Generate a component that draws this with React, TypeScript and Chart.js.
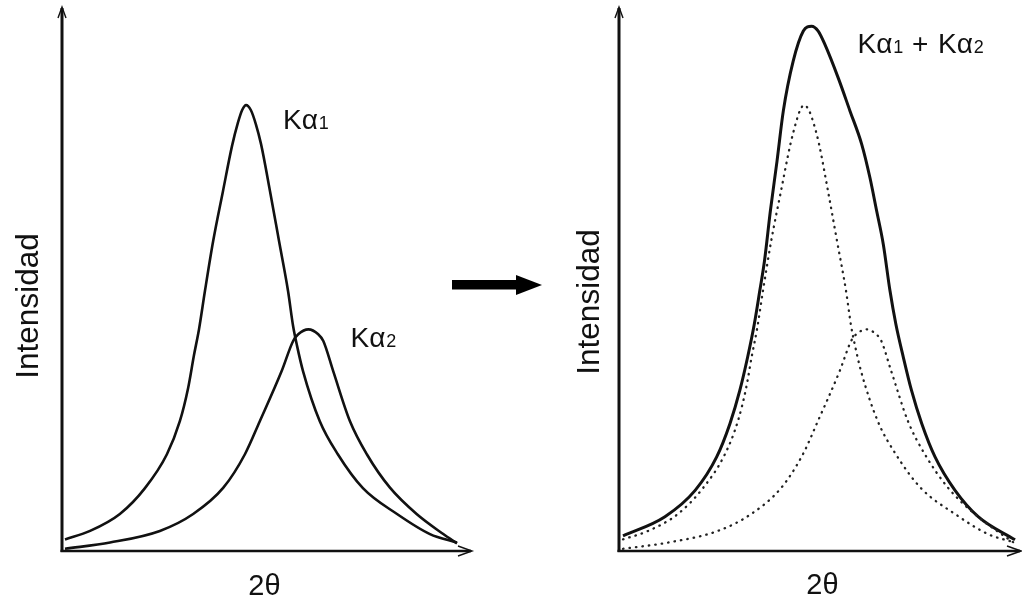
import React, { useEffect, useRef } from "react";
import { Chart, registerables } from "chart.js";

Chart.register(...registerables);

// ---- data (2θ in arbitrary units 0..100, intensity with Kα1 peak = 100) ----
const KA1_X = [0, 6.4, 14.0, 20.4, 26.0, 29.3, 31.4, 32.9, 34.2, 35.7, 37.8, 40.3, 42.6, 44.1, 45.2, 46.2, 47.4, 48.7, 50.0, 52.3, 54.6, 56.9, 58.2, 59.2, 60.7, 65.0, 69.6, 76.0, 84.7, 93.1, 100];
const KA1_Y = [2.6, 4.5, 8.3, 14.1, 21.7, 29.1, 36.5, 43.9, 49.8, 58.3, 69.5, 80.7, 90.8, 96.0, 98.9, 100, 98.9, 95.7, 91.3, 80.7, 69.5, 58.3, 50.4, 46.0, 40.4, 29.1, 21.7, 14.1, 8.3, 3.8, 1.9];

const KA2_X = [0, 11.5, 24.2, 32.7, 40.4, 45.9, 49.7, 55.3, 58.2, 59.5, 62.1, 64.6, 65.9, 68.4, 72.7, 77.0, 82.9, 89.7, 96.5, 100];
const KA2_Y = [0.5, 1.9, 4.5, 8.3, 14.2, 21.7, 29.1, 40.4, 47.1, 48.6, 49.7, 48.6, 47.1, 40.4, 29.1, 21.7, 14.2, 8.3, 3.8, 1.7];

const SUM_X = [0, 10.7, 18.4, 23.9, 27.3, 29.8, 31.8, 33.5, 34.9, 36.1, 37.6, 39.3, 40.9, 43.4, 46.0, 48.1, 49.8, 51.5, 54.9, 57.9, 60.9, 63.0, 64.7, 66.4, 68.1, 69.6, 71.5, 73.6, 76.2, 79.6, 84.7, 90.6, 100];
const SUM_Y = [3.4, 7.7, 13.6, 21.1, 28.6, 36.0, 43.5, 50.9, 58.4, 65.1, 76.3, 87.5, 98.7, 109.8, 116.6, 117.7, 116.6, 113.6, 106.1, 98.7, 91.2, 83.7, 76.3, 68.8, 58.4, 50.9, 43.5, 36.0, 28.6, 21.1, 13.6, 7.7, 2.5];

const X_TITLE = "2θ";
const Y_TITLE = "Intensidad";
const LABEL_KA = "Kα";

const FF = '"Liberation Sans", Arial, Helvetica, sans-serif';
const INK = "#111";

const pts = (xs: number[], ys: number[]) => xs.map((x, i) => ({ x, y: ys[i] }));

function drawAxes(ctx: CanvasRenderingContext2D, a: any) {
  ctx.save();
  ctx.strokeStyle = INK;
  ctx.lineCap = "butt";
  ctx.lineWidth = 3;
  ctx.beginPath();
  ctx.moveTo(a.left, a.bottom + 1);
  ctx.lineTo(a.left, a.top + 1);
  ctx.stroke();
  ctx.lineWidth = 2.5;
  ctx.beginPath();
  ctx.moveTo(a.left - 1.5, a.bottom);
  ctx.lineTo(a.right - 1, a.bottom);
  ctx.stroke();
  ctx.lineWidth = 1.4;
  ctx.beginPath();
  ctx.moveTo(a.left - 4, a.top + 11);
  ctx.lineTo(a.left, a.top);
  ctx.lineTo(a.left + 4, a.top + 11);
  ctx.stroke();
  ctx.beginPath();
  ctx.moveTo(a.right - 14, a.bottom - 5);
  ctx.lineTo(a.right, a.bottom);
  ctx.lineTo(a.right - 14, a.bottom + 5);
  ctx.stroke();
  ctx.restore();
}

function drawK(ctx: CanvasRenderingContext2D, x: number, y: number, sub: string) {
  ctx.font = `28px ${FF}`;
  ctx.textAlign = "left";
  ctx.textBaseline = "alphabetic";
  ctx.fillText(LABEL_KA, x, y);
  const w = ctx.measureText(LABEL_KA).width;
  ctx.font = `18px ${FF}`;
  ctx.fillText(sub, x + w + 1, y);
  return x + w + 1 + ctx.measureText(sub).width;
}

function drawTitles(ctx: CanvasRenderingContext2D, xCenter: number, xBase: number, yBaseX: number, yCenter: number) {
  ctx.save();
  ctx.fillStyle = INK;
  ctx.textAlign = "center";
  ctx.textBaseline = "alphabetic";
  ctx.font = `29px ${FF}`;
  ctx.fillText(X_TITLE, xCenter, xBase);
  ctx.font = `31.5px ${FF}`;
  ctx.translate(yBaseX, yCenter);
  ctx.rotate(-Math.PI / 2);
  ctx.fillText(Y_TITLE, 0, 0);
  ctx.restore();
}

function Panel({ which }: { which: "left" | "right" }) {
  const ref = useRef<HTMLCanvasElement | null>(null);
  useEffect(() => {
    if (!ref.current) return;
    const left = which === "left";
    const dotted = { borderColor: "#222", borderWidth: 2.3, borderDash: [0.5, 6], borderCapStyle: "round" };
    const datasets: any[] = left
      ? [
          { data: pts(KA1_X, KA1_Y), borderColor: INK, borderWidth: 2.6 },
          { data: pts(KA2_X, KA2_Y), borderColor: INK, borderWidth: 2.6 },
        ]
      : [
          { data: pts(KA1_X, KA1_Y), ...dotted },
          { data: pts(KA2_X, KA2_Y), ...dotted },
          { data: pts(SUM_X, SUM_Y), borderColor: INK, borderWidth: 3 },
        ];
    datasets.forEach((d) => {
      d.pointRadius = 0;
      d.fill = false;
      d.cubicInterpolationMode = "monotone";
    });
    const decor = {
      id: "decor",
      afterDraw(chart: any) {
        const ctx = chart.ctx as CanvasRenderingContext2D;
        drawAxes(ctx, chart.chartArea);
        ctx.save();
        ctx.fillStyle = INK;
        if (left) {
          drawK(ctx, 283, 128.5, "1");
          drawK(ctx, 350.5, 347, "2");
        } else {
          drawK(ctx, 346.5, 52.5, "1");
          ctx.font = `28px ${FF}`;
          ctx.fillText("+", 401, 52.5);
          drawK(ctx, 427, 52.5, "2");
        }
        ctx.restore();
        if (left) drawTitles(ctx, 264.5, 595, 37.5, 306);
        else drawTitles(ctx, 311.5, 594, 88, 302);
      },
    };
    const chart = new Chart(ref.current, {
      type: "line",
      data: { datasets },
      options: {
        animation: false,
        responsive: false,
        layout: {
          padding: left
            ? { left: 62, right: 39, top: 7, bottom: 47 }
            : { left: 108, right: 1, top: 7, bottom: 47 },
        },
        scales: {
          x: {
            type: "linear",
            display: false,
            min: left ? -0.765 : -1.02,
            max: left ? 103.83 : 101.53,
          },
          y: { type: "linear", display: false, min: 0, max: 122 },
        },
        plugins: { legend: { display: false }, tooltip: { enabled: false } },
      },
      plugins: [decor],
    });
    return () => chart.destroy();
  }, [which]);
  return (
    <canvas
      ref={ref}
      width={511}
      height={598}
      style={{ position: "absolute", top: 0, left: which === "left" ? 0 : 511, width: 511, height: 598 }}
    />
  );
}

export default function App() {
  return (
    <div style={{ position: "absolute", left: 0, top: 0, width: 1022, height: 598, background: "#fff", overflow: "hidden" }}>
      <Panel which="left" />
      <Panel which="right" />
      <svg width={1022} height={598} style={{ position: "absolute", left: 0, top: 0, pointerEvents: "none" }}>
        <rect x={452} y={280} width={66} height={9.5} fill="#000" />
        <polygon points="516,275 542,285 516,295" fill="#000" />
      </svg>
    </div>
  );
}
